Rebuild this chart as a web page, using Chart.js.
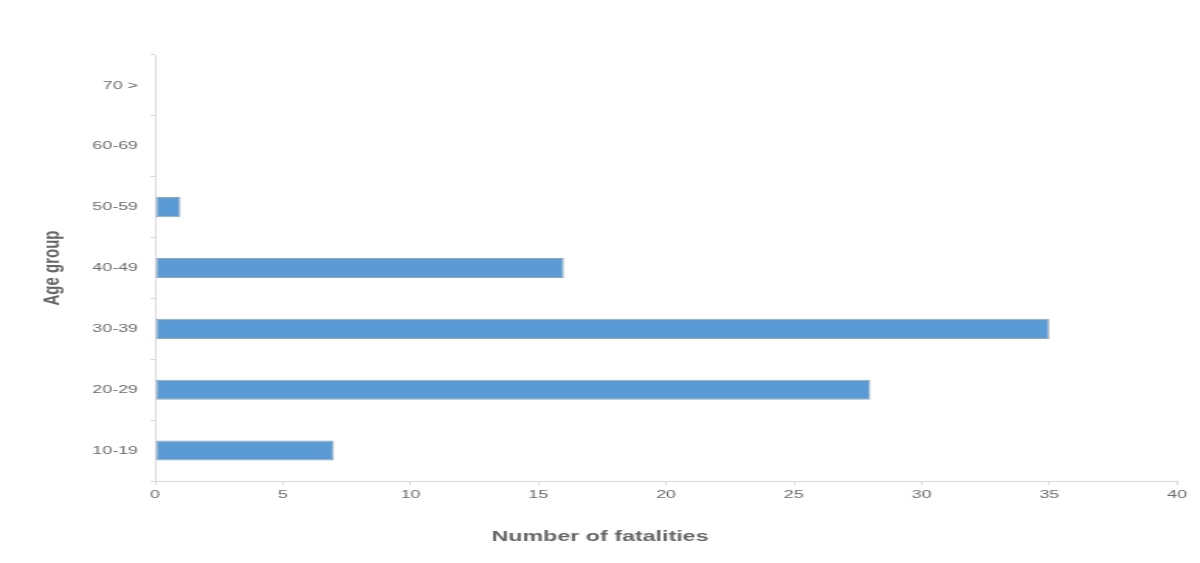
<!DOCTYPE html>
<html>
<head>
<meta charset="utf-8">
<script src="https://cdn.jsdelivr.net/npm/chart.js@4.4.0/dist/chart.umd.min.js"></script>
<style>
    html, body { margin: 0; padding: 0; background: #ffffff; overflow: hidden; }
    /* the source picture is a horizontally stretched export, so the chart is
       drawn narrow and stretched to the full window width */
    #wrap {
        width: 774px;
        height: 563px;
        transform: scale(1.5504, 1);
        transform-origin: 0 0;
    }
</style>
</head>
<body>
<div id="wrap"><canvas id="chart"></canvas></div>
<script>
// Data (bottom to top)
const ageGroups = ['10-19', '20-29', '30-39', '40-49', '50-59', '60-69', '70 >'];
const fatalities = [7, 28, 35, 16, 1, 0, 0];
const xTicks = [0, 5, 10, 15, 20, 25, 30, 35, 40];

const labelColor = '#6b6b6b';
const axisColor = '#d9d9d9';
const fontFamily = '"Liberation Sans", Arial, sans-serif';

const ctx = document.getElementById('chart').getContext('2d');

new Chart(ctx, {
    type: 'bar',
    data: {
        labels: ageGroups,
        datasets: [
            {
                label: 'Number of fatalities',
                data: fatalities,
                backgroundColor: '#5b9bd5',
                borderColor: '#9aa6b2',
                borderWidth: 1,
                borderSkipped: false,
                barPercentage: 0.33,
                categoryPercentage: 1
            }
        ]
    },
    options: {
        indexAxis: 'y',
        responsive: true,
        maintainAspectRatio: false,
        animation: false,
        devicePixelRatio: 1,
        layout: {
            // equal side padding keeps the bottom title centred on the picture
            padding: { left: 14.8, right: 14.8, top: 55, bottom: 0 }
        },
        plugins: {
            legend: { display: false },
            tooltip: { enabled: false },
            // x axis title is centred on the whole picture, not the axis
            title: {
                display: true,
                position: 'bottom',
                text: 'Number of fatalities',
                color: '#666666',
                padding: { top: 0, bottom: 17 },
                font: { family: fontFamily, size: 15, weight: 'bold', lineHeight: 1.2 }
            }
        },
        scales: {
            x: {
                type: 'linear',
                min: xTicks[0],
                max: xTicks[xTicks.length - 1],
                afterBuildTicks: (axis) => {
                    axis.ticks = xTicks.map(v => ({ value: v }));
                },
                afterFit: (axis) => { axis.height = 47; },
                grid: {
                    drawOnChartArea: false,
                    drawTicks: true,
                    tickLength: 4,
                    color: axisColor
                },
                border: { display: true, color: axisColor, width: 1 },
                ticks: {
                    color: labelColor,
                    padding: 3,
                    font: { family: fontFamily, size: 11.5 }
                }
            },
            y: {
                reverse: true,
                afterFit: (axis) => { axis.width = 85.2; },
                grid: {
                    drawOnChartArea: false,
                    drawTicks: true,
                    tickLength: 3,
                    color: axisColor
                },
                border: { display: true, color: axisColor, width: 1 },
                ticks: {
                    color: labelColor,
                    padding: 8,
                    font: { family: fontFamily, size: 11.5 }
                },
                title: {
                    display: true,
                    text: 'Age group',
                    color: '#666666',
                    padding: { top: 9.7, bottom: 0 },
                    font: { family: fontFamily, size: 15, weight: 'bold' }
                }
            }
        }
    }
});
</script>
</body>
</html>
